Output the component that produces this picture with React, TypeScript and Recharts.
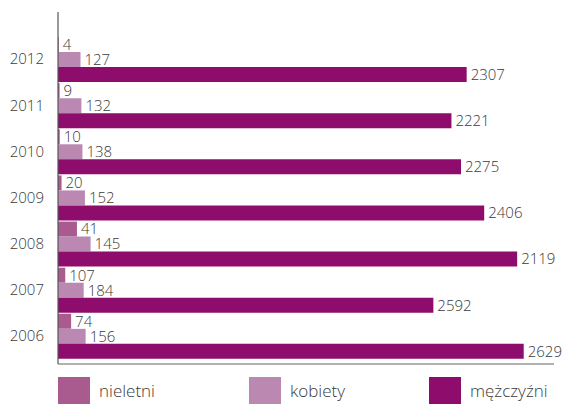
import { Bar, BarChart, LabelList, XAxis, YAxis } from "recharts";

const years = ["2012", "2011", "2010", "2009", "2008", "2007", "2006"];

// printed values next to each bar
const nieletniLabels = [4, 9, 10, 20, 41, 107, 74];
const kobietyLabels = [127, 132, 138, 152, 145, 184, 156];
const mezczyzniLabels = [2307, 2221, 2275, 2406, 2119, 2592, 2629];

// bar lengths as drawn (2007 and 2008 bars are swapped in the source picture)
const nieletniBars = [4, 9, 10, 20, 107, 41, 74];
const kobietyBars = [127, 132, 138, 152, 184, 145, 156];
const mezczyzniBars = [2307, 2221, 2275, 2406, 2592, 2119, 2629];

const COLORS = {
  nieletni: "#a95a8f",
  kobiety: "#ba88b0",
  mezczyzni: "#8d0c6c"
};

const FONT = "'Open Sans', 'Noto Sans', sans-serif";

const data = years.map((year, i) => ({
  year,
  nieletni: nieletniBars[i],
  kobiety: kobietyBars[i],
  mezczyzni: mezczyzniBars[i],
  nieletniLabel: nieletniLabels[i],
  kobietyLabel: kobietyLabels[i],
  mezczyzniLabel: mezczyzniLabels[i]
}));

const legendItems = [
  { name: "nieletni", color: COLORS.nieletni, left: 58 },
  { name: "kobiety", color: COLORS.kobiety, left: 249 },
  { name: "mężczyźni", color: COLORS.mezczyzni, left: 429 }
];

function ChartLegend() {
  return (
    <div style={{ position: "absolute", left: 0, top: 377, width: 565, height: 27 }}>
      {legendItems.map((item) => (
        <div
          key={item.name}
          style={{
            position: "absolute",
            left: item.left,
            top: 0,
            display: "flex",
            alignItems: "center",
            fontFamily: FONT,
            fontWeight: 300,
            fontSize: 17,
            color: "#3a3a3a"
          }}
        >
          <span style={{ display: "inline-block", width: 32, height: 27, background: item.color, marginRight: 9 }} />
          {item.name}
        </div>
      ))}
    </div>
  );
}

const labelProps = { fill: "#3a3a3a", fontSize: 15, fontFamily: FONT, fontWeight: 300 };

export default function App() {
  return (
    <div style={{ position: "absolute", left: 0, top: 0, width: 565, height: 404 }}>
      <BarChart
        width={565}
        height={404}
        data={data}
        layout="vertical"
        margin={{ top: 12, right: 11, bottom: 39, left: 0 }}
        barCategoryGap={1}
        barGap={0}
      >
        <XAxis
          type="number"
          domain={[0, 2800]}
          tick={false}
          tickLine={false}
          axisLine={{ stroke: "#666", strokeWidth: 1.2 }}
          height={1}
        />
        <YAxis
          type="category"
          dataKey="year"
          width={58}
          tickLine={false}
          tickSize={0}
          tickMargin={14}
          axisLine={{ stroke: "#555", strokeWidth: 1.2 }}
          padding={{ top: 24, bottom: 5 }}
          tick={{ fill: "#3a3a3a", fontSize: 15, fontFamily: FONT, fontWeight: 300 }}
        />
        <Bar dataKey="nieletni" name="nieletni" fill={COLORS.nieletni} isAnimationActive={false}>
          <LabelList dataKey="nieletniLabel" position="right" offset={4} {...labelProps} />
        </Bar>
        <Bar dataKey="kobiety" name="kobiety" fill={COLORS.kobiety} isAnimationActive={false}>
          <LabelList dataKey="kobietyLabel" position="right" offset={4} {...labelProps} />
        </Bar>
        <Bar dataKey="mezczyzni" name="mężczyźni" fill={COLORS.mezczyzni} isAnimationActive={false}>
          <LabelList dataKey="mezczyzniLabel" position="right" offset={4} {...labelProps} />
        </Bar>
      </BarChart>
      <ChartLegend />
    </div>
  );
}
